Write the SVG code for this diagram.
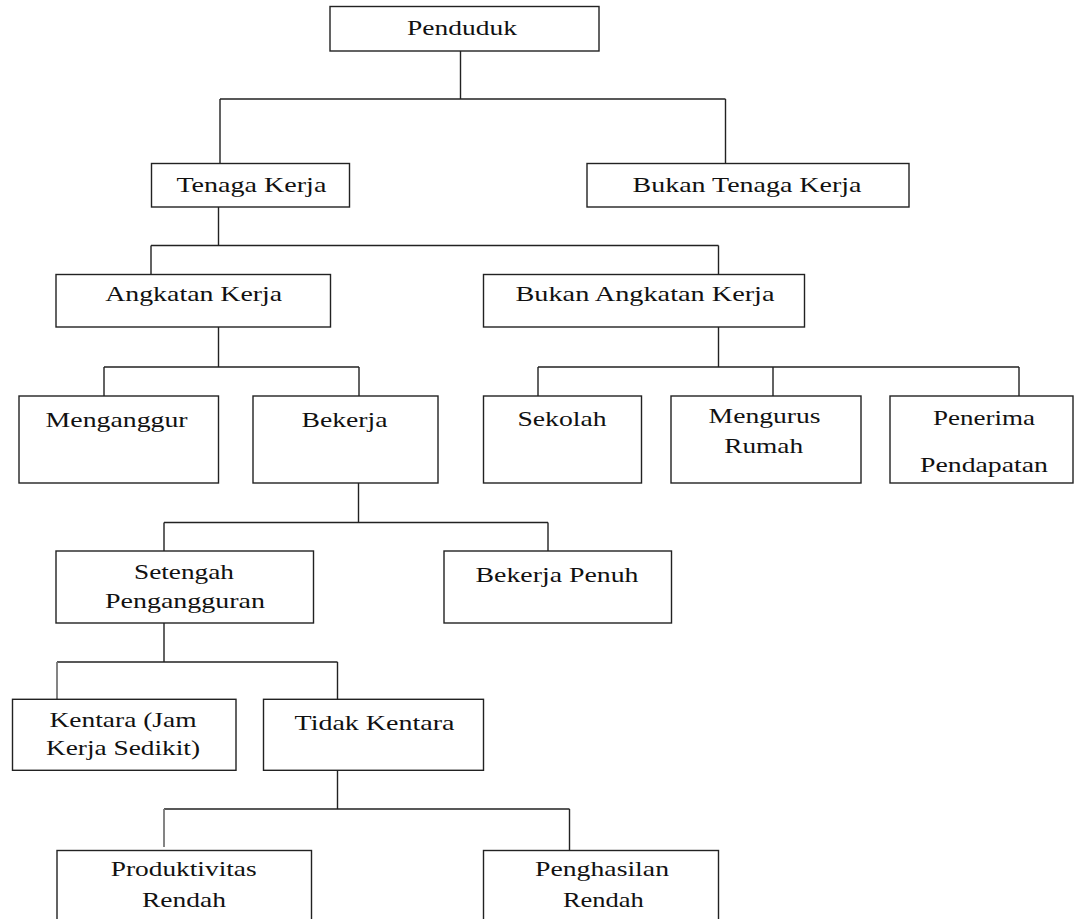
<svg xmlns="http://www.w3.org/2000/svg" width="1074" height="919" viewBox="0 0 1074 919">
<style>
.box{fill:#fff;stroke:#222;stroke-width:1.4}
.ln{fill:none;stroke:#222;stroke-width:1.4}
.gr{stroke:#777;stroke-width:1.8}
text{font-family:"Liberation Serif","Times New Roman",serif;font-size:21px;fill:#111;text-anchor:middle}
</style>
<rect width="1074" height="919" fill="#fff"/>
<g id="connectors">
<path class="ln" d="M460.5 51V99M220 99H725.5M220 99V163M725.5 99V163"/>
<path class="ln" d="M218.5 207V245.5M151 245.5H718.5M151 245.5V274.5M718.5 245.5V274.5"/>
<path class="ln" d="M218.5 327V367M104 367H359M104 367V396M359 367V396"/>
<path class="ln" d="M718.5 327V367M538 367H1019M538 367V396M773 367V396M1019 367V396"/>
<path class="ln" d="M358.5 483V522.5M164 522.5H548M164 522.5V551M548 522.5V551"/>
<path class="ln" d="M164 623V662M57 662H337.5M337.5 662V699"/>
<path class="ln gr" d="M57 662V699"/>
<path class="ln" d="M337.5 771V809M164 809H569.5M569.5 809V850.5"/>
<path class="ln gr" d="M164 809V847"/>
</g>
<g id="penduduk"><rect class="box" x="330" y="6.5" width="269" height="44.5"/><text x="462" y="35" textLength="110" lengthAdjust="spacingAndGlyphs">Penduduk</text></g>
<g id="tenaga-kerja"><rect class="box" x="151.5" y="163.5" width="198" height="43.5"/><text x="251.4" y="191.5" textLength="150" lengthAdjust="spacingAndGlyphs">Tenaga Kerja</text></g>
<g id="bukan-tenaga-kerja"><rect class="box" x="587" y="163.5" width="322" height="43.5"/><text x="747" y="191.5" textLength="229" lengthAdjust="spacingAndGlyphs">Bukan Tenaga Kerja</text></g>
<g id="angkatan-kerja"><rect class="box" x="56" y="274.5" width="274.5" height="52.5"/><text x="193.7" y="301" textLength="177" lengthAdjust="spacingAndGlyphs">Angkatan Kerja</text></g>
<g id="bukan-angkatan-kerja"><rect class="box" x="483.5" y="274.5" width="321" height="52.5"/><text x="645" y="301" textLength="259" lengthAdjust="spacingAndGlyphs">Bukan Angkatan Kerja</text></g>
<g id="menganggur"><rect class="box" x="19" y="396" width="199.5" height="87"/><text x="116.6" y="426.5" textLength="142" lengthAdjust="spacingAndGlyphs">Menganggur</text></g>
<g id="bekerja"><rect class="box" x="253" y="396" width="185" height="87"/><text x="344.5" y="426.5" textLength="86" lengthAdjust="spacingAndGlyphs">Bekerja</text></g>
<g id="sekolah"><rect class="box" x="483.5" y="396" width="158" height="87"/><text x="562" y="426" textLength="89" lengthAdjust="spacingAndGlyphs">Sekolah</text></g>
<g id="mengurus-rumah"><rect class="box" x="671" y="396" width="190" height="87"/><text x="764.6" y="423" textLength="112" lengthAdjust="spacingAndGlyphs">Mengurus</text><text x="763.7" y="452.7" textLength="79" lengthAdjust="spacingAndGlyphs">Rumah</text></g>
<g id="penerima-pendapatan"><rect class="box" x="890" y="396" width="183" height="87"/><text x="984" y="425" textLength="102" lengthAdjust="spacingAndGlyphs">Penerima</text><text x="984" y="471.7" textLength="128" lengthAdjust="spacingAndGlyphs">Pendapatan</text></g>
<g id="setengah-pengangguran"><rect class="box" x="56" y="551" width="257.5" height="72"/><text x="184" y="579" textLength="100" lengthAdjust="spacingAndGlyphs">Setengah</text><text x="185" y="608.3" textLength="160" lengthAdjust="spacingAndGlyphs">Pengangguran</text></g>
<g id="bekerja-penuh"><rect class="box" x="444" y="551" width="227.5" height="72"/><text x="557" y="581.7" textLength="163" lengthAdjust="spacingAndGlyphs">Bekerja Penuh</text></g>
<g id="kentara"><rect class="box" x="12.5" y="699.3" width="223.5" height="71"/><text x="123" y="726.7" textLength="147" lengthAdjust="spacingAndGlyphs">Kentara (Jam</text><text x="123" y="754.5" textLength="154" lengthAdjust="spacingAndGlyphs">Kerja Sedikit)</text></g>
<g id="tidak-kentara"><rect class="box" x="263.5" y="699.3" width="220" height="71"/><text x="374.5" y="730" textLength="160" lengthAdjust="spacingAndGlyphs">Tidak Kentara</text></g>
<g id="produktivitas-rendah"><rect class="box" x="57" y="850.5" width="254.5" height="80"/><text x="183.7" y="876" textLength="146" lengthAdjust="spacingAndGlyphs">Produktivitas</text><text x="184" y="906.7" textLength="84" lengthAdjust="spacingAndGlyphs">Rendah</text></g>
<g id="penghasilan-rendah"><rect class="box" x="483.5" y="850.5" width="235" height="80"/><text x="602" y="876" textLength="134" lengthAdjust="spacingAndGlyphs">Penghasilan</text><text x="603.4" y="906.7" textLength="81" lengthAdjust="spacingAndGlyphs">Rendah</text></g>
</svg>
